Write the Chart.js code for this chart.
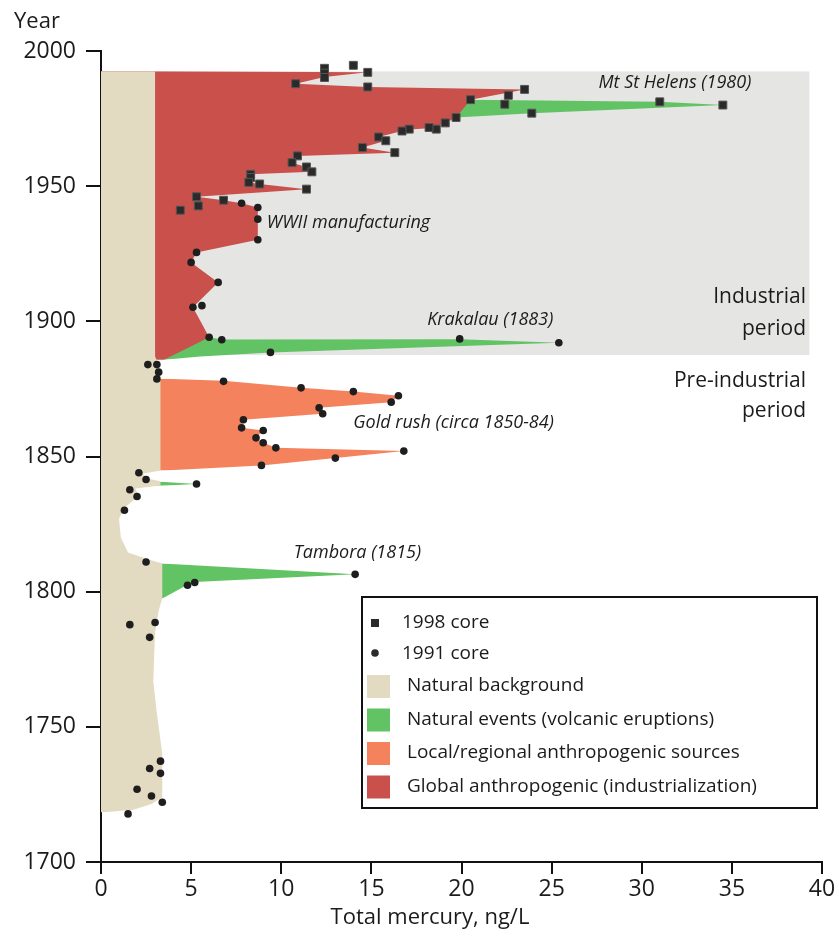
<!DOCTYPE html>
<html>
<head>
<meta charset="utf-8">
<script src="https://cdn.jsdelivr.net/npm/chart.js@4.4.0/dist/chart.umd.min.js"></script>
<style>
  html, body { margin: 0; padding: 0; background: #fff; }
</style>
</head>
<body>
<canvas id="mercuryChart" width="839" height="936"></canvas>
<script>
// [total mercury ng/L, year]
var core1998 = [
  [14.0, 1994.7], [12.4, 1993.6], [12.4, 1991.8], [12.4, 1990.2], [14.8, 1992.1], [10.8, 1987.9],
  [14.8, 1986.7], [23.5, 1985.8], [22.6, 1983.6], [20.5, 1982.0], [31.0, 1981.2], [22.4, 1980.3],
  [34.5, 1980.0], [23.9, 1977.0], [19.7, 1975.4], [19.1, 1973.4], [18.6, 1971.1], [18.2, 1971.7],
  [17.1, 1971.1], [16.7, 1970.4], [15.4, 1968.2], [15.8, 1966.8], [14.5, 1964.3], [16.3, 1962.4],
  [10.9, 1961.2], [10.6, 1958.7], [11.4, 1957.1], [11.7, 1955.3], [8.3, 1954.4], [8.3, 1953.2],
  [8.2, 1951.4], [8.8, 1950.8], [11.4, 1948.9], [5.3, 1946.1], [6.8, 1944.8], [5.4, 1942.7], [4.4, 1941.1]
]
var core1991 = [
  [7.8, 1943.7], [8.7, 1942.1], [8.7, 1937.8], [8.7, 1930.2], [5.3, 1925.5], [5.0, 1921.8],
  [6.5, 1914.4], [5.6, 1905.8], [5.1, 1905.2], [6.0, 1894.1], [6.7, 1893.2], [19.9, 1893.5],
  [25.4, 1892.1], [9.4, 1888.5], [2.6, 1884.0], [3.1, 1884.0], [3.2, 1881.2], [3.1, 1878.7],
  [6.8, 1877.8], [11.1, 1875.4], [14.0, 1874.0], [16.5, 1872.5], [16.1, 1870.1], [12.1, 1868.0],
  [12.3, 1865.8], [7.9, 1863.6], [7.8, 1860.6], [9.0, 1859.6], [8.6, 1856.9], [9.0, 1855.1],
  [9.7, 1853.2], [16.8, 1852.0], [13.0, 1849.4], [8.9, 1846.7], [2.1, 1844.0], [2.5, 1841.5],
  [5.3, 1839.8], [1.6, 1837.7], [2.0, 1835.2], [1.3, 1830.1], [2.5, 1811.0], [14.1, 1806.4],
  [5.2, 1803.4], [4.8, 1802.4], [1.6, 1787.8], [3.0, 1788.6], [2.7, 1783.1], [3.3, 1737.3],
  [2.7, 1734.6], [3.3, 1732.8], [2.0, 1726.9], [2.8, 1724.4], [3.4, 1722.1], [1.5, 1717.8]
]

// outer edges of the shaded bands, top to bottom
var naturalBackground = [
  [3.0, 1992.5], [3.0, 1887], [3.2, 1884], [3.3, 1880], [3.3, 1844.8], [2.3, 1843.6], [2.6, 1841.8],
  [3.3, 1840.8], [3.3, 1839.3], [1.9, 1838.2], [2.1, 1835.5], [1.3, 1831], [1.0, 1827], [1.1, 1820],
  [1.5, 1814.5], [2.6, 1812], [3.4, 1810.4], [3.4, 1797.5], [3.2, 1793], [3.0, 1785], [2.9, 1767],
  [3.1, 1755], [3.4, 1740], [3.4, 1724], [2.8, 1721.5], [1.8, 1719.3], [0, 1718.3]
]
var globalAnthro = [
  [3.3, 1992.5], [14.8, 1992.1], [12.4, 1990.4], [10.8, 1987.9], [14.8, 1986.7], [23.5, 1985.8],
  [20.5, 1982], [19.7, 1975.4], [19.1, 1973.4], [18.4, 1971.5], [17.1, 1971], [16.7, 1970.4],
  [15.4, 1968.2], [15.8, 1966.8], [14.5, 1964.3], [16.3, 1962.4], [10.9, 1961.2], [10.6, 1958.7],
  [11.4, 1957.1], [11.7, 1955.3], [8.3, 1954.4], [8.2, 1951.4], [8.8, 1950.8], [11.4, 1948.9],
  [5.3, 1946.1], [6.8, 1944.8], [7.8, 1943.7], [8.7, 1942.1], [8.7, 1937.8], [8.7, 1930.2],
  [5.3, 1925.5], [5.0, 1921.8], [6.5, 1914.4], [5.1, 1905.2], [6.0, 1894.1], [3.5, 1885.8]
]
var localAnthro = [
  [3.5, 1878.8], [6.8, 1878.0], [11.1, 1875.4], [14.0, 1874], [16.5, 1872.5], [16.1, 1870.1],
  [12.1, 1868], [12.3, 1865.8], [7.9, 1863.6], [7.8, 1860.6], [9.0, 1859.6], [8.6, 1856.9],
  [9.0, 1855.1], [9.7, 1853.2], [16.8, 1852], [13.0, 1849.4], [8.9, 1846.7], [3.5, 1844.8]
]
var stHelens = [[20.5, 1982], [31.0, 1981.2], [34.5, 1980], [23.9, 1977], [19.7, 1975.4]]
var krakatau = [[6.0, 1894.1], [6.7, 1893.3], [19.9, 1893.4], [25.4, 1892.1], [9.4, 1888.5], [5.5, 1887.0], [3.5, 1885.8]]
var eruption1840 = [[3.3, 1840.7], [5.3, 1839.8], [3.3, 1839.2]]
var tambora = [[3.4, 1810.4], [14.1, 1806.4], [5.2, 1803.6], [4.7, 1802.2], [3.4, 1797.5]]
var industrialPeriod = [[39.3, 1992.5], [39.3, 1887.5]]

var eventLabels = ["Mt St Helens (1980)", "WWII manufacturing", "Krakalau (1883)", "Gold rush (circa 1850-84)", "Tambora (1815)"]
var eventX = [27.6, 9.2, 18.1, 14.0, 10.7]
var eventY = [1988.2, 1936.4, 1900.5, 1862.4, 1814.3]

var legendLabels = ["1998 core", "1991 core", "Natural background", "Natural events (volcanic eruptions)",
  "Local/regional anthropogenic sources", "Global anthropogenic (industrialization)"]

var BEIGE = "#e2dac1", GREEN = "#62c364", ORANGE = "#f3825d", RED = "#c9504b", GREY = "#e5e5e3"

function toPoints(arr) {
  return arr.map(function (p) { return {x: p[0], y: p[1]} })
}

function band(label, arr, color, order) {
  return {
    label: label,
    data: toPoints(arr),
    backgroundColor: color,
    borderWidth: 0,
    pointRadius: 0,
    fill: 'origin',
    tension: 0,
    order: order
  }
}

var overlay = {
  id: 'overlay',
  afterDraw: function (chart) {
    var ctx = chart.ctx
    var x = chart.scales.x, y = chart.scales.y
    ctx.save()
    ctx.fillStyle = "#1b1b1b"
    ctx.textBaseline = "middle"

    // axis titles
    ctx.font = "22px 'Open Sans'"
    ctx.textAlign = "left"
    ctx.fillText("Year", 14, 22)
    ctx.textAlign = "center"
    ctx.fillText("Total mercury, ng/L", 430, 918)

    // event notes
    ctx.font = "italic 18px 'Open Sans'"
    ctx.textAlign = "left"
    eventLabels.forEach(function (t, i) {
      ctx.fillText(t, x.getPixelForValue(eventX[i]), y.getPixelForValue(eventY[i]))
    })

    // period notes
    ctx.font = "21px 'Open Sans'"
    ctx.textAlign = "right"
    ctx.fillText("Industrial", 806, 297)
    ctx.fillText("period", 806, 329)
    ctx.fillText("Pre-industrial", 806, 381)
    ctx.fillText("period", 806, 411)

    // legend box
    ctx.fillStyle = "#fff"
    ctx.fillRect(362, 597, 455, 211)
    ctx.strokeStyle = "#111"
    ctx.lineWidth = 2
    ctx.strokeRect(362, 597, 455, 211)

    ctx.fillStyle = "#2a2a2a"
    ctx.fillRect(371, 619, 8, 8)
    ctx.beginPath()
    ctx.arc(375, 653, 3.8, 0, Math.PI * 2)
    ctx.fill()
    var swatches = [BEIGE, GREEN, ORANGE, RED]
    swatches.forEach(function (c, i) {
      ctx.fillStyle = c
      ctx.fillRect(367, 675 + i * 33.5, 23, 23)
    })

    ctx.fillStyle = "#1b1b1b"
    ctx.font = "19px 'Open Sans'"
    ctx.textAlign = "left"
    var rows = [623, 654, 686, 720, 753, 787]
    legendLabels.forEach(function (t, i) {
      ctx.fillText(t, i < 2 ? 402 : 407, rows[i])
    })
    ctx.restore()
  }
}

Chart.defaults.font.family = "'Open Sans', sans-serif"
Chart.defaults.color = "#1b1b1b"

var chart = new Chart(document.getElementById("mercuryChart").getContext('2d'), {
  type: "line",
  data: {
    datasets: [
      {
        label: "1998 core",
        data: toPoints(core1998),
        showLine: false,
        pointStyle: "rect",
        pointRadius: 5.6,
        backgroundColor: "#2a2a2a",
        borderColor: "#555",
        borderWidth: 1,
        order: 0
      },
      {
        label: "1991 core",
        data: toPoints(core1991),
        showLine: false,
        pointStyle: "circle",
        pointRadius: 3.8,
        backgroundColor: "#1e1e1e",
        borderColor: "#1e1e1e",
        borderWidth: 0,
        order: 0
      },
      band("Natural background", naturalBackground, BEIGE, 1),
      band("Global anthropogenic (industrialization)", globalAnthro, RED, 2),
      band("Local/regional anthropogenic sources", localAnthro, ORANGE, 3),
      band("Mt St Helens", stHelens, GREEN, 4),
      band("Krakatau", krakatau, GREEN, 4),
      band("1840 eruption", eruption1840, GREEN, 4),
      band("Tambora", tambora, GREEN, 4),
      band("Industrial period", industrialPeriod, GREY, 5)
    ]
  },
  options: {
    responsive: false,
    animation: false,
    events: [],
    indexAxis: "y",
    layout: { padding: { top: 51, right: 17, left: 0, bottom: 0 } },
    plugins: {
      legend: { display: false },
      tooltip: { enabled: false }
    },
    scales: {
      x: {
        type: "linear",
        min: 0,
        max: 40,
        ticks: { stepSize: 5, padding: 2, font: { size: 23 } },
        grid: { drawOnChartArea: false, tickLength: 12, color: "#111", lineWidth: 2 },
        border: { color: "#111", width: 2 },
        afterFit: function (s) { s.height = 74 }
      },
      y: {
        type: "linear",
        min: 1700,
        max: 2000,
        ticks: { stepSize: 50, padding: 10, font: { size: 23 }, callback: function (v) { return String(v) } },
        grid: { drawOnChartArea: false, tickLength: 15, color: "#111", lineWidth: 2 },
        border: { color: "#111", width: 2 },
        afterFit: function (s) { s.width = 101 }
      }
    }
  },
  plugins: [overlay]
})
</script>
</body>
</html>
